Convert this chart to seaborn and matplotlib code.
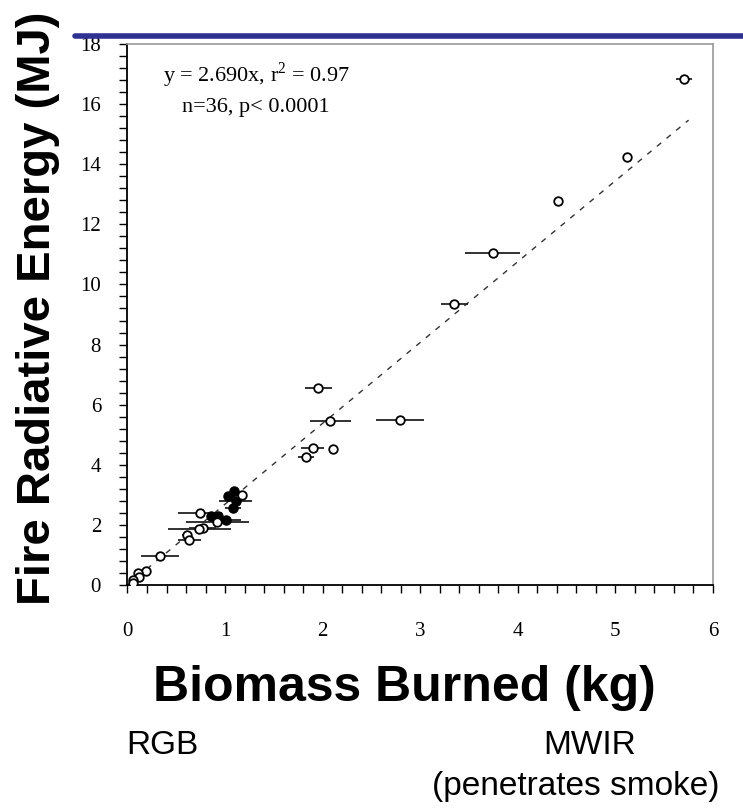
import numpy as np
import pandas as pd
import matplotlib.pyplot as plt
import seaborn as sns
from matplotlib.ticker import MultipleLocator

# Data
open_x = [5.705, 5.118, 4.414, 3.742, 3.35, 1.955, 2.078, 2.792, 1.897, 2.106, 1.829,
          1.170, 0.743, 0.920, 0.770, 0.736, 0.613, 0.633, 0.333, 0.19, 0.11, 0.12, 0.06, 0.053]
open_y = [16.83, 14.25, 12.79, 11.04, 9.34, 6.57, 5.46, 5.49, 4.55, 4.52, 4.25,
          3.01, 2.39, 2.11, 1.91, 1.85, 1.66, 1.50, 0.965, 0.47, 0.41, 0.28, 0.17, 0.08]
open_xerr = [0.08, 0.03, 0.0, 0.28, 0.14, 0.14, 0.21, 0.25, 0.12, 0.0, 0.085,
             0.05, 0.23, 0.32, 0.14, 0.32, 0.05, 0.12, 0.19, 0.04, 0.03, 0.03, 0.03, 0.02]

filled_x = [1.091, 1.033, 1.107, 1.078, 0.856, 0.930, 1.009]
filled_y = [3.13, 2.96, 2.80, 2.55, 2.30, 2.28, 2.16]
filled_xerr = [0.0, 0.0, 0.17, 0.08, 0.0, 0.0, 0.15]

slope = 2.690
fit_x = [0.0, 5.75]

open_df = pd.DataFrame({'biomass': open_x, 'fre': open_y, 'err': open_xerr})
filled_df = pd.DataFrame({'biomass': filled_x, 'fre': filled_y, 'err': filled_xerr})
fit_df = pd.DataFrame({'biomass': fit_x, 'fre': [slope * v for v in fit_x]})

sns.set_theme(style='white')
plt.rcParams['font.family'] = ['Liberation Sans', 'DejaVu Sans']
plt.rcParams['text.color'] = 'black'
plt.rcParams['xtick.color'] = 'black'
plt.rcParams['ytick.color'] = 'black'

fig = plt.figure(figsize=(7.43, 8.09), dpi=100)
ax = fig.add_axes([127.5 / 743, 1 - 585 / 809, (713 - 127.5) / 743, (585 - 44) / 809])

# regression line
sns.lineplot(data=fit_df, x='biomass', y='fre', ax=ax, color='#333333', lw=1.0,
             linestyle=(0, (4, 5)), zorder=1)

# horizontal error bars
for df in (open_df, filled_df):
    ax.errorbar(df['biomass'], df['fre'], xerr=df['err'], fmt='none',
                ecolor='#222222', elinewidth=1.3, capsize=0, zorder=2)

sns.scatterplot(data=filled_df, x='biomass', y='fre', ax=ax, marker='o', s=45,
                color='black', edgecolor='black', linewidth=0.8, zorder=3)
sns.scatterplot(data=open_df, x='biomass', y='fre', ax=ax, marker='o', s=38,
                facecolor='white', edgecolor='black', linewidth=1.3, zorder=4)

ax.set_xlim(0, 6)
ax.set_ylim(0, 18)
ax.xaxis.set_major_locator(MultipleLocator(1))
ax.xaxis.set_minor_locator(MultipleLocator(0.2))
ax.yaxis.set_major_locator(MultipleLocator(2))
ax.yaxis.set_minor_locator(MultipleLocator(0.4))
ax.tick_params(which='both', direction='out', length=6, width=1, color='black',
               bottom=True, left=True)
ax.tick_params(axis='x', which='major', pad=21)
ax.tick_params(axis='y', which='major', pad=13)
for lab in ax.get_xticklabels() + ax.get_yticklabels():
    lab.set_family('Liberation Serif')
    lab.set_fontsize(15)
    lab.set_color('black')
ax.set_xlabel('')
ax.set_ylabel('')

for side in ('left', 'bottom'):
    ax.spines[side].set_color('black')
    ax.spines[side].set_linewidth(1.3)
for side in ('top', 'right'):
    ax.spines[side].set_color('#999999')
    ax.spines[side].set_linewidth(1.2)

ax.text(1.32, 16.95, r'y = 2.690x, r$^{\mathregular{2}}$ = 0.97', family='Liberation Serif',
        fontsize=16, ha='center', va='center')
ax.text(1.32, 15.9, 'n=36, p< 0.0001', family='Liberation Serif',
        fontsize=16, ha='center', va='center')

# labels and captions
fig.text(38 / 743, 1 - 308 / 809, 'Fire Radiative Energy (MJ)', rotation=90,
         fontsize=34, fontweight='bold', ha='center', va='center')
fig.text(404 / 743, 1 - 688 / 809, 'Biomass Burned (kg)', fontsize=36,
         fontweight='bold', ha='center', va='center')
fig.text(162 / 743, 1 - 746 / 809, 'RGB', fontsize=24, ha='center', va='center')
fig.text(590 / 743, 1 - 746 / 809, 'MWIR', fontsize=24, ha='center', va='center')
fig.text(576 / 743, 1 - 787 / 809, '(penetrates smoke)', fontsize=24,
         ha='center', va='center')

# blue rule across the top
fig.add_artist(plt.Line2D([75 / 743, 1.0], [1 - 36 / 809, 1 - 36 / 809],
                          transform=fig.transFigure, color='#2E3192', lw=4))

fig.savefig('out.png', dpi=100, facecolor='white')
